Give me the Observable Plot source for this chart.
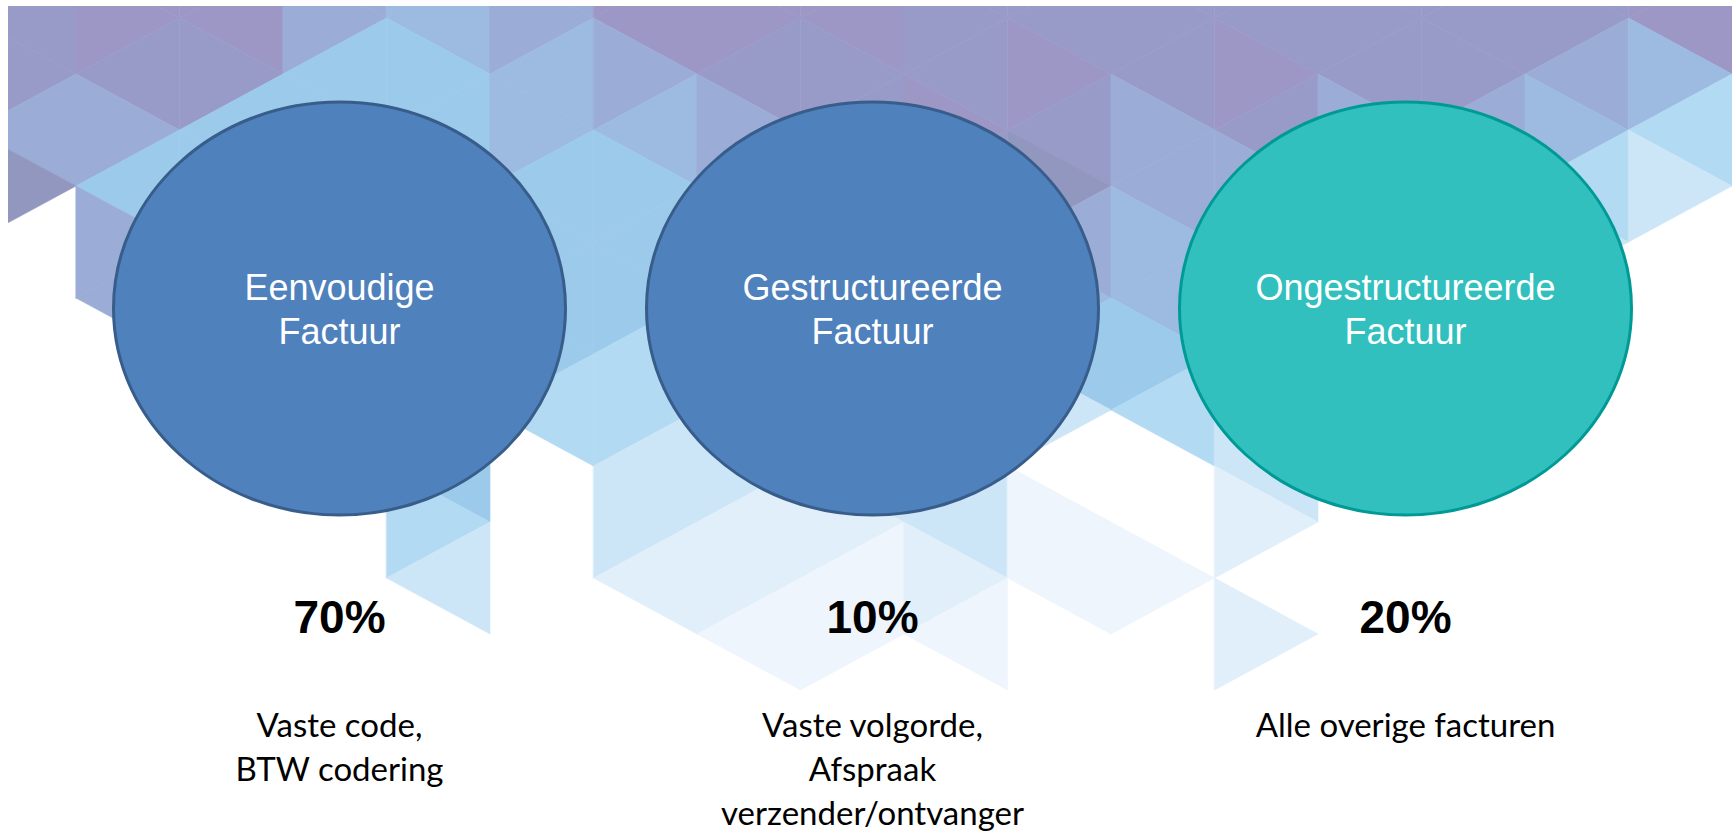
<!DOCTYPE html>
<html><head><meta charset="utf-8">
<script src="https://cdn.jsdelivr.net/npm/d3@7"></script>
<script src="https://cdn.jsdelivr.net/npm/@observablehq/plot@0.6"></script>
<style>
html,body{margin:0;padding:0;background:#fff;overflow:hidden;}
#chart{position:relative;width:1735px;height:832px;}
#chart svg{position:absolute;left:0;top:0;}
</style></head><body><div id="chart"></div>
<script>
// ---- chart data ----
const categories = ["Eenvoudige Factuur", "Gestructureerde Factuur", "Ongestructureerde Factuur"];
const labels = ["Eenvoudige\nFactuur", "Gestructureerde\nFactuur", "Ongestructureerde\nFactuur"];
const shares = [70, 10, 20];
const notes = ["Vaste code,\nBTW codering", "Vaste volgorde,\nAfspraak\nverzender/ontvanger", "Alle overige facturen"];
const fills = ["#4F81BD", "#4F81BD", "#31C0BE"];
const strokes = ["#385D8A", "#385D8A", "#009A96"];

// ---- decorative triangle backdrop: one character per triangle (columns k=-1..15, rows j=-2..10) ----
const tilePalette = {p:"#989BC8", q:"#9D97C6", g:"#9297C0", l:"#9BADD6", m:"#9DBAE1", b:"#9CCAEB", c:"#B3DAF3", d:"#CDE6F7", e:"#E1EFFA", f:"#EEF5FC"};
const tileRows = [
  "pqqlmlqqqpppppppq",
  "pqqlmlqqqpppppppq",
  "pppbbmlpppqpqpplm",
  "llbbbmmlpqplpllmc",
  "gbbbbbbmppglllmcd",
  ".lbbbbbblllmmmmd.",
  ".lbbbbbbmmmmmmm..",
  "..bbbbcbbbbbbb...",
  "...bbcccccdcd....",
  "....b.dddd..d....",
  "....c.deedf.e....",
  "....d.eefeff.....",
  ".......fff..e...."
];
const firstRow = -2;

const tris = [];
tileRows.forEach((row, r) => {
  const j = r + firstRow;
  [...row].forEach((ch, c) => {
    if (ch === ".") return;
    const k = c - 1;
    const baseLeft = (((k + j) % 2) + 2) % 2 === 1;
    const id = k + "," + j;
    const color = tilePalette[ch];
    const base = {x: baseLeft ? k : k + 1, y1: j, y2: j + 2, id, color};
    const apex = {x: baseLeft ? k + 1 : k, y1: j + 1, y2: j + 1, id, color};
    (base.x < apex.x ? [base, apex] : [apex, base]).forEach(p => tris.push(p));
  });
});

const W = 1735, H = 832;
const bg = Plot.plot({
  width: W, height: H,
  marginLeft: 8, marginRight: 3, marginTop: 6, marginBottom: 0,
  x: {domain: [0, 16], range: [76, 1732], axis: null},
  y: {domain: [0, 14], range: [18, 802], axis: null},
  color: {type: "identity"},
  style: {background: "white"},
  marks: [
    Plot.areaY(tris, {x: "x", y1: "y1", y2: "y2", z: "id", fill: "color", stroke: "color", strokeWidth: 0.6, clip: true})
  ]
});

// ellipse drawn as a custom dot symbol (aspect ratio of the reference shapes)
const ASPECT = 226 / 206.5;
const ellipseSymbol = {
  draw(ctx, size) {
    const ry = Math.sqrt(size / Math.PI), rx = ry * ASPECT, k = 0.5522847498;
    ctx.moveTo(rx, 0);
    ctx.bezierCurveTo(rx, ry * k, rx * k, ry, 0, ry);
    ctx.bezierCurveTo(-rx * k, ry, -rx, ry * k, -rx, 0);
    ctx.bezierCurveTo(-rx, -ry * k, -rx * k, -ry, 0, -ry);
    ctx.bezierCurveTo(rx * k, -ry, rx, -ry * k, rx, 0);
    ctx.closePath();
  }
};

const rows = categories.map((name, i) => ({name, label: labels[i], share: shares[i] + "%", note: notes[i], fill: fills[i], stroke: strokes[i]}));

const fg = Plot.plot({
  width: W, height: H, margin: 0,
  x: {type: "point", domain: categories, range: [338.5, 1404.7], padding: 0, axis: null},
  color: {type: "identity"},
  style: {background: "transparent"},
  marks: [
    Plot.dot(rows, {x: "name", frameAnchor: "top", dy: 308, r: 206.5, symbol: ellipseSymbol, fill: "fill", stroke: "stroke", strokeWidth: 3}),
    Plot.text(rows, {x: "name", text: "label", frameAnchor: "top", dy: 307, lineAnchor: "middle", lineHeight: 44 / 36, fontSize: 36, fontFamily: "Liberation Sans, Arial, sans-serif", fill: "white"}),
    Plot.text(rows, {x: "name", text: "share", frameAnchor: "top", dy: 632, lineAnchor: "bottom", fontSize: 46, fontWeight: "bold", fontFamily: "Liberation Sans, Arial, sans-serif", fill: "black"}),
    Plot.text(rows, {x: "name", text: "note", frameAnchor: "top", dy: 705, lineAnchor: "top", lineHeight: 44 / 33, fontSize: 33, fontFamily: "Lato, Carlito, sans-serif", fill: "black"})
  ]
});

const chart = document.getElementById("chart");
chart.appendChild(bg);
chart.appendChild(fg);
</script></body></html>
